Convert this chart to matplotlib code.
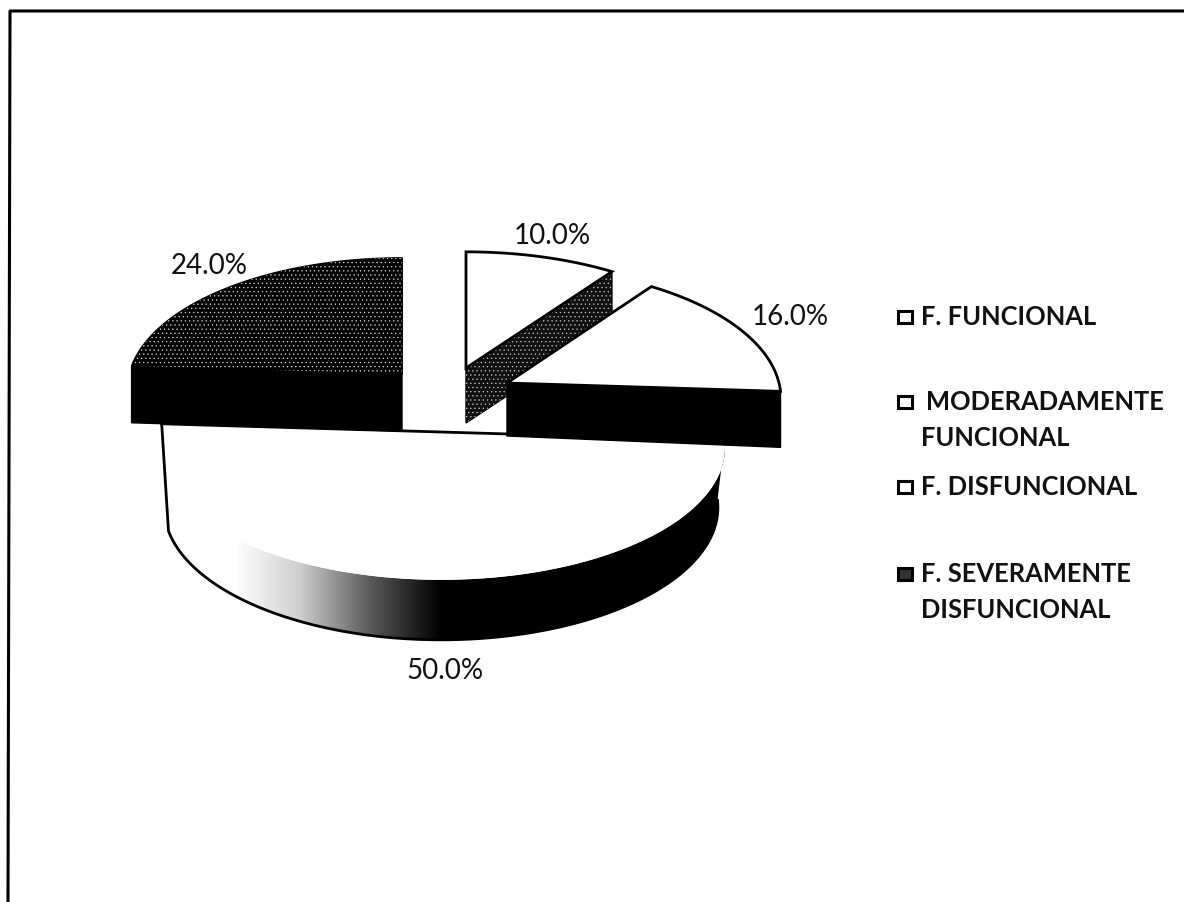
import numpy as np
import matplotlib
matplotlib.use("Agg")
import matplotlib.pyplot as plt
from matplotlib.patches import Polygon, Rectangle

categorias = ["F. FUNCIONAL", " MODERADAMENTE\nFUNCIONAL", "F. DISFUNCIONAL", "F. SEVERAMENTE\nDISFUNCIONAL"]
valores = [10.0, 16.0, 50.0, 24.0]

# pie centre of every slice in pixels, plus its depth and radius
centros = [(466, 368), (507, 383), (441, 432), (402, 374)]
grosor = [55, 53, 60, 57]
radios = [275, 272, 282, 273]
RY, P = 132, 0.12

plt.rcParams["font.family"] = ["Lato", "DejaVu Sans"]
plt.rcParams["hatch.linewidth"] = 0.4

fig = plt.figure(figsize=(11.84, 9.02), dpi=100)
ax = fig.add_axes([0, 0, 1, 1])
ax.set_xlim(0, 1184)
ax.set_ylim(902, 0)
ax.axis("off")


def borde(i, a, b):
    # rim of the slice between two angles (degrees clockwise from the top)
    t = np.radians(np.linspace(a, b, 90))
    f = 1 - P * np.cos(t)
    c = centros[i]
    return np.c_[c[0] + radios[i] * np.sin(t) * f, c[1] - RY * np.cos(t) * f]


limites = np.cumsum([0] + valores) * 3.6
rims = [borde(i, limites[i], limites[i + 1]) for i in range(4)]
abajo = np.array([0, 1])

# 50% slice: rim face, fades from white to black
c, g, r = centros[2], grosor[2], rims[2]
# lower rim is a bit narrower, same as the scanned chart
r_bajo = np.c_[c[0] + (r[:, 0] - c[0]) * 0.975, r[:, 1] + g]
cara = np.r_[r, r_bajo[::-1]]
degradado = np.interp(np.arange(1184), [235, 300, 370, 440], [1, 0.8, 0.35, 0]).reshape(1, -1)
img = ax.imshow(degradado, cmap="gray", vmin=0, vmax=1, aspect="auto",
                extent=[0, 1184, 902, 0], zorder=1)
lado = Polygon(cara, fc="none", ec="none")
ax.add_patch(lado)
img.set_clip_path(lado)
ax.add_patch(Polygon(np.r_[[c], r], fc="white", ec="none", zorder=2))
# outline skips the end of the lower rim so the left side has no kink
ax.plot(*np.r_[r[-1:], r_bajo[:80][::-1]].T, color="black", lw=2, zorder=3)
ax.plot(*np.array([r[-1], c, r[0]]).T, color="black", lw=2, zorder=3)

# 24% slice: black side, dotted top
c, g, r = centros[3], grosor[3], rims[3]
ax.add_patch(Polygon([r[0], c, r[-1], r[-1] + abajo * g, np.array(c) + abajo * g, r[0] + abajo * g],
                     fc="black", ec="black", lw=1, zorder=4))
ax.add_patch(Polygon(np.r_[[c], r], fc="black", ec="black", lw=1, zorder=5))
ax.add_patch(Polygon(np.r_[[c], r], fc="none", ec="#dddddd", lw=0, hatch="....", zorder=5))

# 10% slice: dotted cut face, white top
c, g, r = centros[0], grosor[0], rims[0]
punta = np.array(c, dtype=float)
cara_corte = [punta, r[-1], r[-1] + abajo * g, punta + abajo * g]
ax.add_patch(Polygon(cara_corte, fc="#111111", ec="black", lw=1, zorder=6))
ax.add_patch(Polygon(cara_corte, fc="none", ec="#cccccc", lw=0, hatch="....", zorder=6))
ax.add_patch(Polygon(np.r_[[c], r], fc="white", ec="black", lw=2, zorder=7))

# 16% slice: white top, black cut face in front
c, g, r = centros[1], grosor[1], rims[1]
punta = np.array(c, dtype=float)
ax.add_patch(Polygon([punta, r[-1], r[-1] + abajo * (g + 3), punta + abajo * g],
                     fc="black", ec="black", lw=1, zorder=8))
ax.add_patch(Polygon(np.r_[[c], r], fc="white", ec="black", lw=2, zorder=9))

# marco escaneado, only left and top survive
ax.plot([1184, 10, 8], [11, 11, 902], color="black", lw=2.2, zorder=10)

# etiquetas de datos
pos_etiquetas = [(552, 236), (790, 317), (445, 671), (209, 266)]
for v, (x, y) in zip(valores, pos_etiquetas):
    ax.text(x, y, f"{v:.1f}%", ha="center", va="center", fontsize=20, color="#111111", zorder=11)

# leyenda
filas_y = [317, 402, 487, 574]
colores = ["white", "white", "white", "#333333"]
for nombre, y, col in zip(categorias, filas_y, colores):
    ax.add_patch(Rectangle((898, y - 6), 14, 12, fc=col, ec="black", lw=2.2, zorder=11))
    for k, linea in enumerate(nombre.split("\n")):
        x = 926 if linea.startswith(" ") else 921
        ax.text(x, y + 36 * k, linea.strip(), ha="left", va="center", fontsize=18.4,
                fontweight="bold", color="#111111", zorder=11)

fig.savefig("out.png", dpi=100)
